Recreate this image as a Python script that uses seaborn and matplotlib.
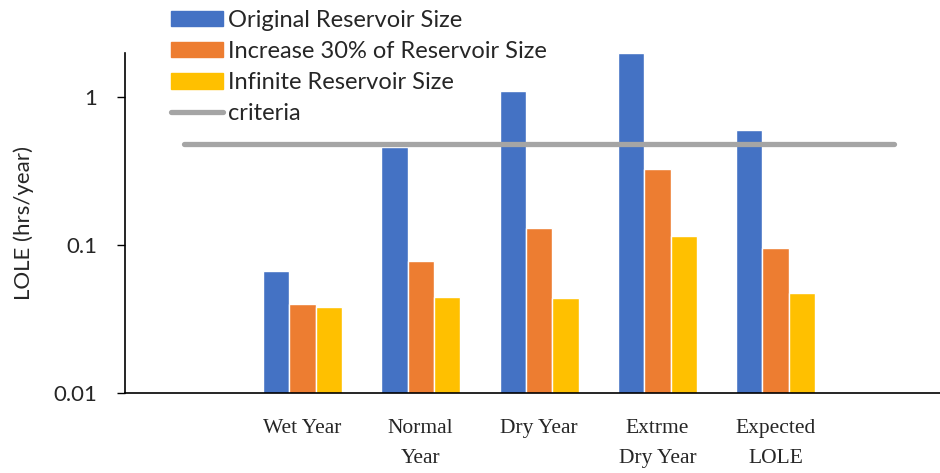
import pandas as pd
import seaborn as sns
import matplotlib.pyplot as plt
from matplotlib.patches import Patch
from matplotlib.lines import Line2D

# Datos (LOLE en hrs/year, escala log)
slots = ["", "Wet Year", "Normal\nYear", "Dry Year", "Extrme\nDry Year", "Expected\nLOLE", " "]
cases = ["Wet Year", "Normal\nYear", "Dry Year", "Extrme\nDry Year", "Expected\nLOLE"]
original = [0.067, 0.46, 1.10, 2.00, 0.60]
increase30 = [0.040, 0.078, 0.131, 0.326, 0.095]
infinite = [0.038, 0.0445, 0.044, 0.115, 0.0475]
criteria = [0.48] * len(slots)
series = ["Original Reservoir Size", "Increase 30% of Reservoir Size", "Infinite Reservoir Size"]
colores = ["#4472C4", "#ED7D31", "#FFC000"]

df = pd.DataFrame({
    "Caso": cases * 3,
    "LOLE": original + increase30 + infinite,
    "Serie": [series[0]] * 5 + [series[1]] * 5 + [series[2]] * 5,
})

sns.set_style("white")
plt.rcParams["font.family"] = ["Lato", "DejaVu Sans"]

fig = plt.figure(figsize=(9.4, 4.73), dpi=100)
ax = fig.add_axes([125 / 940, 1 - 393 / 473, 815 / 940, (393 - 52.7) / 473])

sns.barplot(data=df, x="Caso", y="LOLE", hue="Serie", order=slots, hue_order=series,
            palette=colores, width=0.667, gap=0, saturation=1, legend=False, ax=ax)
ax.plot(range(len(slots)), criteria, color="#A5A5A5", lw=3.8, solid_capstyle="round", zorder=5)

ax.set_yscale("log")
ax.set_ylim(0.01, 2)
ax.set_xlim(-0.5, -0.5 + 815 / 118.3)
ax.set_yticks([0.01, 0.1, 1])
ax.set_yticklabels(["0.01", "0.1", "1"])
ax.minorticks_off()
ax.tick_params(axis="y", length=6, width=1, color="black", labelsize=16, pad=14, direction="out", left=True)
ax.tick_params(axis="x", length=0, pad=19)
ax.set_xticks(range(len(slots)))
ax.set_xticklabels(slots, family="Liberation Serif", fontsize=15.5, linespacing=1.75)
ax.set_xlabel("")
ax.set_ylabel("LOLE (hrs/year)", fontsize=16, labelpad=14)

for s in ["top", "right"]:
    ax.spines[s].set_visible(False)
for s in ["left", "bottom"]:
    ax.spines[s].set_color("black")
    ax.spines[s].set_linewidth(1.2)

handles = [Patch(color=c) for c in colores]
handles.append(Line2D([], [], color="#A5A5A5", lw=3.8, solid_capstyle="round"))
fig.legend(handles, series + ["criteria"], loc="upper left", bbox_to_anchor=(171 / 940, 1 - 10 / 473),
           frameon=False, fontsize=17, handlelength=2.2, handleheight=0.62, handletextpad=0.22,
           labelspacing=0.43, borderpad=0, borderaxespad=0)

plt.savefig("out.png", dpi=100)
